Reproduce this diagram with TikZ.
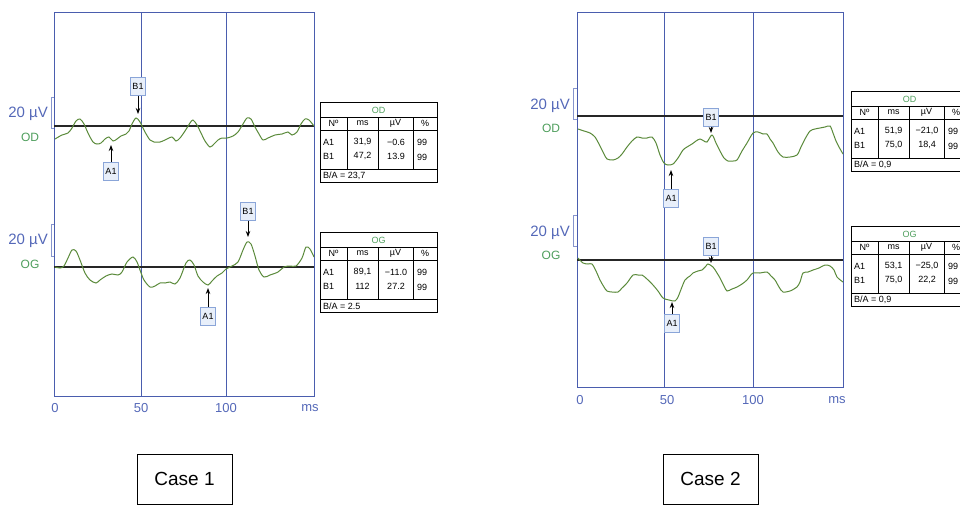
\documentclass[tikz,border=0pt]{standalone}
\usepackage{fontspec}
\setmainfont{Liberation Sans}
\usetikzlibrary{arrows.meta}

\definecolor{frameblue}{HTML}{4A5DAE}
\definecolor{lblblue}{HTML}{5468B8}
\definecolor{txtgreen}{HTML}{4E9E5C}
\definecolor{tracegreen}{HTML}{5A8A3A}
\definecolor{pkfill}{HTML}{E8EFFA}
\definecolor{pkdraw}{HTML}{8AA5D8}

% result table: name, position, title, A1 ms, A1 uV, B1 ms, B1 uV, B/A
\newcommand{\restab}[8]{%
  \begin{scope}[shift={#2}]
    \draw[tab] (0,0) rectangle (117,80);
    \draw[tab] (0,15) -- (117,15) (0,28) -- (117,28) (0,67) -- (117,67);
    \foreach \x in {27,58,93} \draw[tab] (\x,15) -- (\x,67);
    \node[tabtxt, text=txtgreen] (#1t) at (58.5,8) {#3};
    \node[tabtxt] (#1n) at (13.5,21.5) {Nº};
    \node[tabtxt] (#1ms) at (42.5,21.5) {ms};
    \node[tabtxt] (#1uv) at (75.5,21.5) {µV};
    \node[tabtxt] (#1pc) at (105,21.5) {\%};
    \node[tabtxt, anchor=west] (#1a) at (3,40) {A1};
    \node[tabtxt] (#1ams) at (42.5,40) {#4};
    \node[tabtxt] (#1auv) at (76,40) {#5};
    \node[tabtxt] (#1apc) at (102,40) {99};
    \node[tabtxt, anchor=west] (#1b) at (3,54) {B1};
    \node[tabtxt] (#1bms) at (42.5,54) {#6};
    \node[tabtxt] (#1buv) at (76,54) {#7};
    \node[tabtxt] (#1bpc) at (102,55) {99};
    \node[tabtxt, anchor=west] (#1ba) at (3,74) {B/A = #8};
  \end{scope}}

\begin{document}
\begin{tikzpicture}[x=1pt, y=-1pt,
    frame/.style = {draw=frameblue, line width=1pt},
    base/.style = {draw=black!85, line width=1.4pt},
    trace/.style = {draw=tracegreen, line width=1pt},
    tab/.style = {draw=black, line width=0.8pt},
    tabtxt/.style = {inner sep=0pt, font=\fontsize{9}{10}\selectfont},
    pk/.style = {draw=pkdraw, fill=pkfill, line width=1pt, inner sep=1pt,
                 minimum width=15pt, minimum height=18pt, font=\fontsize{9}{10}\selectfont},
    pkarrow/.style = {-{Stealth[length=6pt, width=4.5pt]}, line width=1pt},
    scl/.style = {text=lblblue, font=\fontsize{15}{17}\selectfont, anchor=east, inner sep=0pt},
    eye/.style = {text=txtgreen, font=\fontsize{12}{14}\selectfont, inner sep=0pt},
    axl/.style = {text=lblblue, font=\fontsize{13}{15}\selectfont, inner sep=0pt},
    brk/.style = {draw=lblblue!70, line width=0.8pt},
    casebox/.style = {draw=black, line width=0.9pt, minimum width=95pt, minimum height=50pt,
                      font=\fontsize{19}{22}\selectfont}]
  \useasboundingbox (0,0) rectangle (960,504);

  % ---------- case 1 ----------
  \draw[frame] (54,12) rectangle (314,396);
  \draw[frame] (141,12) -- (141,396) (226,12) -- (226,396);
  \node[axl] (x0a) at (55,408) {0};
  \node[axl] (x50a) at (141,408) {50};
  \node[axl] (x100a) at (226,408) {100};
  \node[axl] (xmsa) at (310,408) {ms};

  \draw[base] (54,126) -- (314,126);
  \draw[brk] (54,97) -| (51,128) -- (54,128);
  \node[scl] (uvod1) at (48,114) {20 µV};
  \node[eye] (od1) at (30,137) {OD};
  \draw[trace] plot[smooth, tension=0.5] coordinates {(55,139) (62,135) (68,133) (72,128) (76,121)
    (80,119) (84,124) (88,133) (93,142) (97,144) (101,143) (105,139) (109,137) (113,141) (117,139)
    (121,136) (126,134) (129,131) (132,124) (136,118) (140,122) (145,132) (150,140) (154,142)
    (160,142) (165,140) (172,137) (176,141) (180,138) (185,131) (190,123) (193,120) (197,125)
    (201,133) (205,141) (210,147) (214,144) (218,140) (222,138) (227,138) (233,136) (238,132)
    (243,124) (247,118) (251,119) (255,127) (259,134) (263,140) (268,138) (275,135) (282,134)
    (288,132) (292,135) (297,132) (301,124) (305,119) (309,120) (314,126)};
  \node[pk] (b1od1) at (138,86) {B1};
  \coordinate (b1od1tip) at (138,114);
  \draw[pkarrow] (b1od1) -- (b1od1tip);
  \node[pk] (a1od1) at (111,171) {A1};
  \coordinate (a1od1tip) at (111,145);
  \draw[pkarrow] (a1od1) -- (a1od1tip);

  \draw[base] (54,267) -- (314,267);
  \draw[brk] (54,224) -| (51,256) -- (54,256);
  \node[scl] (uvog1) at (48,241) {20 µV};
  \node[eye] (og1) at (30,264) {OG};
  \draw[trace] plot[smooth, tension=0.5] coordinates {(55,267) (60,268) (64,266) (68,258) (72,250)
    (76,251) (80,260) (85,273) (90,280) (96,283) (100,280) (106,276) (112,274) (118,275) (122,272)
    (127,262) (133,257) (137,262) (140,270) (144,280) (150,287) (155,286) (160,283) (165,283)
    (170,282) (175,284) (180,278) (186,263) (190,260) (194,265) (198,276) (203,282) (208,285)
    (212,281) (217,276) (222,273) (226,269) (232,266) (238,262) (243,250) (247,242) (251,244)
    (255,256) (259,270) (264,277) (270,275) (278,272) (284,267) (290,266) (296,266) (302,258)
    (306,247) (310,249) (314,257)};
  \node[pk] (b1og1) at (248,211) {B1};
  \coordinate (b1og1tip) at (248,237);
  \draw[pkarrow] (b1og1) -- (b1og1tip);
  \node[pk] (a1og1) at (208,316) {A1};
  \coordinate (a1og1tip) at (208,288);
  \draw[pkarrow] (a1og1) -- (a1og1tip);

  \restab{tod1}{(320,102)}{OD}{31,9}{−0.6}{47,2}{13.9}{23,7}
  \restab{tog1}{(320,232)}{OG}{89,1}{−11.0}{112}{27.2}{2.5}

  \node[casebox] (case1) at (184.5,479) {Case 1};

  % ---------- case 2 ----------
  \draw[frame] (577,12) rectangle (843,387);
  \draw[frame] (664,12) -- (664,387) (753,12) -- (753,387);
  \node[axl] (x0b) at (580,400) {0};
  \node[axl] (x50b) at (667,400) {50};
  \node[axl] (x100b) at (753,400) {100};
  \node[axl] (xmsb) at (837,400) {ms};

  \draw[base] (577,116) -- (843,116);
  \draw[brk] (577,88) -| (573,119) -- (577,119);
  \node[scl] (uvod2) at (570,106) {20 µV};
  \node[eye] (od2) at (551,128) {OD};
  \draw[trace] plot[smooth, tension=0.5] coordinates {(578,129) (584,131) (590,133) (595,137)
    (600,146) (604,154) (607,159) (613,160) (618,158) (622,154) (627,147) (632,141) (637,137)
    (642,138) (647,138) (652,137) (656,143) (660,155) (664,163) (668,165) (673,164) (678,158)
    (683,150) (687,147) (692,144) (696,141) (700,139) (704,141) (707,142) (712,135) (716,143)
    (720,151) (724,158) (728,161) (733,161) (737,160) (742,151) (747,143) (753,133) (758,132)
    (763,134) (767,134) (770,139) (773,143) (778,152) (783,157) (790,157) (797,155) (801,147)
    (805,139) (810,131) (815,129) (820,128) (825,127) (830,126) (833,133) (836,141) (839,147)
    (843,154)};
  \node[pk] (b1od2) at (711,117) {B1};
  \coordinate (b1od2tip) at (711,133);
  \draw[pkarrow] (b1od2) -- (b1od2tip);
  \node[pk] (a1od2) at (671,198) {A1};
  \coordinate (a1od2tip) at (671,170);
  \draw[pkarrow] (a1od2) -- (a1od2tip);

  \draw[base] (577,260) -- (843,260);
  \draw[brk] (577,215) -| (573,246) -- (577,246);
  \node[scl] (uvog2) at (570,233) {20 µV};
  \node[eye] (og2) at (551,255) {OG};
  \draw[trace] plot[smooth, tension=0.5] coordinates {(578,258) (583,263) (588,264) (592,264)
    (596,271) (600,280) (604,287) (607,291) (612,292) (618,292) (622,288) (627,283) (633,275)
    (638,275) (642,275) (647,279) (653,285) (658,291) (663,298) (669,300) (675,301) (678,297)
    (680,292) (685,280) (690,276) (693,273) (698,271) (702,270) (706,266) (708,264) (713,267)
    (717,273) (720,278) (724,286) (727,291) (732,289) (737,287) (742,284) (747,280) (750,276)
    (753,273) (760,273) (767,272) (771,276) (775,280) (779,287) (783,292) (790,291) (794,289)
    (797,287) (800,282) (803,273) (808,272) (813,270) (819,268) (825,265) (830,266) (834,270)
    (837,277) (843,282)};
  \node[pk] (b1og2) at (711,246) {B1};
  \coordinate (b1og2tip) at (711,263);
  \draw[pkarrow] (b1og2) -- (b1og2tip);
  \node[pk] (a1og2) at (672,323) {A1};
  \coordinate (a1og2tip) at (672,302);
  \draw[pkarrow] (a1og2) -- (a1og2tip);

  \restab{tod2}{(851,91)}{OD}{51,9}{−21,0}{75,0}{18,4}{0,9}
  \restab{tog2}{(851,226)}{OG}{53,1}{−25,0}{75,0}{22,2}{0,9}

  \node[casebox] (case2) at (710.5,479) {Case 2};
\end{tikzpicture}
\end{document}
